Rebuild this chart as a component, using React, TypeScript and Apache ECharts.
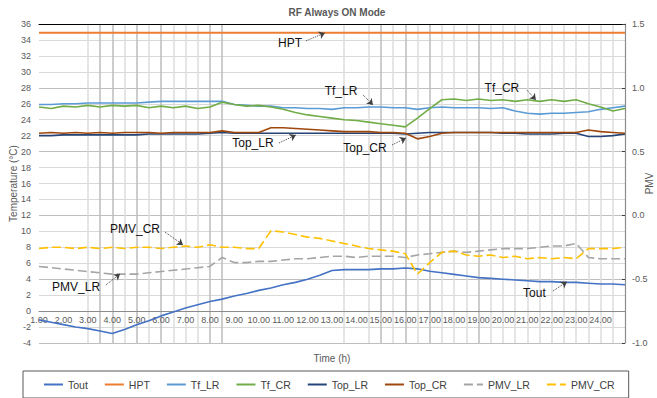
import React, { useEffect, useRef } from 'react';
import * as echarts from 'echarts';

const HOURS = [
  1.0, 1.5, 2.0, 2.5, 3.0, 3.5, 4.0, 4.5, 5.0, 5.5, 6.0, 6.5, 7.0, 7.5, 8.0, 8.5,
  9.0, 9.5, 10.0, 10.5, 11.0, 11.5, 12.0, 12.5, 13.0, 13.5, 14.0, 14.5, 15.0, 15.5,
  16.0, 16.5, 17.0, 17.5, 18.0, 18.5, 19.0, 19.5, 20.0, 20.5, 21.0, 21.5, 22.0, 22.5,
  23.0, 23.5, 24.0, 24.5, 25.0,
];

const TOUT = [
  -1.1, -1.4, -1.7, -2.0, -2.2, -2.5, -2.8, -2.3, -1.7, -1.2, -0.6, -0.1, 0.4, 0.8, 1.2, 1.5,
  1.9, 2.2, 2.6, 2.9, 3.3, 3.6, 4.0, 4.5, 5.1, 5.2, 5.2, 5.2, 5.3, 5.3,
  5.4, 5.3, 5.0, 4.8, 4.6, 4.4, 4.2, 4.1, 4.0, 3.9, 3.8, 3.7, 3.7, 3.6,
  3.6, 3.5, 3.4, 3.4, 3.3,
];

const HPT = [
  34.9, 34.9, 34.9, 34.9, 34.9, 34.9, 34.9, 34.9, 34.9, 34.9, 34.9, 34.9, 34.9, 34.9, 34.9, 34.9,
  34.9, 34.9, 34.9, 34.9, 34.9, 34.9, 34.9, 34.9, 34.9, 34.9, 34.9, 34.9, 34.9, 34.9,
  34.9, 34.9, 34.9, 34.9, 34.9, 34.9, 34.9, 34.9, 34.9, 34.9, 34.9, 34.9, 34.9, 34.9,
  34.9, 34.9, 34.9, 34.9, 34.9,
];

const TF_LR = [
  25.9, 25.9, 26.0, 26.0, 26.1, 26.1, 26.1, 26.1, 26.1, 26.2, 26.3, 26.3, 26.3, 26.3, 26.3, 26.3,
  25.9, 25.8, 25.7, 25.7, 25.5, 25.5, 25.4, 25.4, 25.3, 25.5, 25.5, 25.6, 25.6, 25.5,
  25.5, 25.3, 25.5, 25.6, 25.5, 25.5, 25.5, 25.4, 25.5, 25.1, 24.8, 24.7, 24.8, 24.8,
  24.9, 25.0, 25.3, 25.5, 25.7,
];

const TF_CR = [
  25.6, 25.4, 25.7, 25.6, 25.8, 25.6, 25.8, 25.7, 25.8, 25.5, 25.7, 25.5, 25.7, 25.4, 25.6, 26.2,
  25.9, 25.7, 25.8, 25.6, 25.3, 24.9, 24.6, 24.4, 24.2, 24.0, 23.9, 23.7, 23.5, 23.3,
  23.1, 24.2, 25.4, 26.5, 26.6, 26.4, 26.6, 26.4, 26.5, 26.3, 26.5, 26.3, 26.5, 26.3,
  26.5, 26.0, 25.6, 25.1, 25.4,
];

const TOP_LR = [
  22.0, 22.0, 22.1, 22.1, 22.1, 22.1, 22.1, 22.1, 22.1, 22.2, 22.2, 22.2, 22.2, 22.2, 22.3, 22.4,
  22.3, 22.3, 22.3, 22.3, 22.3, 22.3, 22.3, 22.3, 22.3, 22.3, 22.3, 22.3, 22.3, 22.3,
  22.2, 22.3, 22.4, 22.4, 22.4, 22.4, 22.4, 22.4, 22.3, 22.3, 22.2, 22.2, 22.2, 22.3,
  22.3, 21.9, 21.9, 22.0, 22.2,
];

const TOP_CR = [
  22.3, 22.4, 22.3, 22.4, 22.3, 22.4, 22.3, 22.4, 22.4, 22.4, 22.3, 22.4, 22.4, 22.4, 22.4, 22.6,
  22.4, 22.4, 22.4, 23.0, 23.0, 22.9, 22.8, 22.7, 22.6, 22.5, 22.5, 22.5, 22.4, 22.4,
  22.3, 21.6, 21.9, 22.3, 22.4, 22.4, 22.4, 22.4, 22.4, 22.4, 22.4, 22.4, 22.4, 22.4,
  22.4, 22.7, 22.5, 22.4, 22.3,
];

const PMV_LR = [
  -0.40, -0.41, -0.42, -0.43, -0.44, -0.45, -0.46, -0.46, -0.46, -0.45, -0.44, -0.43, -0.42, -0.41, -0.40, -0.33,
  -0.37, -0.37, -0.36, -0.36, -0.35, -0.34, -0.34, -0.33, -0.32, -0.32, -0.33, -0.32, -0.32, -0.32,
  -0.33, -0.31, -0.30, -0.29, -0.28, -0.29, -0.28, -0.27, -0.26, -0.26, -0.26, -0.25, -0.24, -0.24,
  -0.22, -0.33, -0.34, -0.34, -0.34,
];

const PMV_CR = [
  -0.26, -0.25, -0.25, -0.26, -0.25, -0.26, -0.25, -0.26, -0.25, -0.25, -0.26, -0.25, -0.24, -0.25, -0.23, -0.25,
  -0.25, -0.26, -0.26, -0.12, -0.13, -0.15, -0.17, -0.18, -0.20, -0.22, -0.24, -0.26, -0.27, -0.28,
  -0.30, -0.46, -0.37, -0.29, -0.28, -0.31, -0.32, -0.31, -0.33, -0.32, -0.34, -0.33, -0.34, -0.33,
  -0.34, -0.26, -0.26, -0.26, -0.25,
];

const TEMP_AXIS = { min: -4, max: 36, interval: 2 };
const PMV_AXIS = { min: -1, max: 1.5, interval: 0.5 };
const TIME_AXIS = { min: 1, max: 25, interval: 1, lastLabel: 24 };

// callout annotations: [hour, value] for label centre, leader start and arrow tip
const ANNOTATIONS: Record<string, { text: number[]; from: number[]; to: number[] }> = {
  HPT: { text: [11.28, 33.6], from: [11.93, 33.88], to: [12.71, 34.88] },
  Tf_LR: { text: [13.37, 27.6], from: [14.27, 27.1], to: [14.68, 25.85] },
  Tf_CR: { text: [19.96, 27.98], from: [20.98, 27.73], to: [21.35, 26.47] },
  Top_LR: { text: [9.76, 21.08], from: [10.83, 21.08], to: [11.52, 22.08] },
  Top_CR: { text: [14.35, 20.49], from: [15.46, 20.83], to: [16.03, 21.71] },
  PMV_CR: { text: [4.93, -0.106], from: [6.16, -0.13], to: [6.9, -0.231] },
  PMV_LR: { text: [2.52, -0.558], from: [3.74, -0.545], to: [4.32, -0.458] },
  Tout: { text: [21.29, 2.3], from: [22.05, 2.51], to: [22.62, 3.68] },
};

const FONT = '"Liberation Sans", Arial, sans-serif';
const D = '#bdbdbd';
const L = '#dddddd';
const VGRID_COLORS = [
  L, D, D, L, D, L, D, L, L, L, D, D,
  L,
  L, D, L, D, L, D, L, L, L, D, L, L, L, L, L, L, L, L, L, L, L,
];

function isGridHour(h: number) {
  return (h >= 3 && h <= 8.5) || h === 13.5 || (h >= 14.5 && h <= 24.5);
}

function makeSeries(name: string, values: number[], color: string, yAxisIndex: number, dashed: boolean, width: number) {
  const a = ANNOTATIONS[name];
  return {
    name,
    type: 'line',
    xAxisIndex: 0,
    yAxisIndex,
    symbol: 'none',
    data: HOURS.map((h, i) => [h, values[i]]),
    lineStyle: { color, width, type: dashed ? [9, 4] : 'solid' },
    itemStyle: { color },
    emphasis: { disabled: true },
    markPoint: {
      silent: true,
      symbol: 'circle',
      symbolSize: 1,
      itemStyle: { color: 'rgba(0,0,0,0)' },
      label: {
        show: true,
        position: 'inside',
        formatter: name,
        color: '#111',
        fontSize: 12,
        fontFamily: FONT,
      },
      data: [{ coord: a.text }],
    },
    markLine: {
      silent: true,
      symbol: ['none', 'arrow'],
      symbolSize: 6,
      label: { show: false },
      lineStyle: { type: 'dotted', color: '#404040', width: 1 },
      itemStyle: { color: '#111' },
      emphasis: { disabled: true },
      data: [[{ coord: a.from }, { coord: a.to }]],
    },
  };
}

export default function App() {
  const ref = useRef<HTMLDivElement>(null);
  useEffect(() => {
    if (!ref.current) return;
    const chart = echarts.init(ref.current, undefined, { renderer: 'svg' });
    // pixel distance from the grid bottom (-4 °C) to the 0 °C line
    const plotHeight = 398 - 24 - 55;
    const zeroOffset = -plotHeight * (0 - TEMP_AXIS.min) / (TEMP_AXIS.max - TEMP_AXIS.min);
    chart.setOption({
      animation: false,
      backgroundColor: '#ffffff',
      title: {
        text: 'RF Always ON Mode',
        left: 332,
        textAlign: 'center',
        top: 2,
        textStyle: { fontSize: 10, fontWeight: 'bold', color: '#595959', fontFamily: FONT },
      },
      grid: { left: 39, right: 32, top: 24, bottom: 55, containLabel: false, outerBoundsMode: 'none' },
      legend: {
        left: 23,
        top: 371,
        padding: [8, 14, 8, 20],
        itemGap: 16,
        itemWidth: 19,
        itemHeight: 10,
        borderColor: '#595959',
        borderWidth: 1,
        itemStyle: { opacity: 0 },
        textStyle: { fontSize: 10.5, color: '#404040', fontFamily: FONT },
        data: ['Tout', 'HPT', 'Tf_LR', 'Tf_CR', 'Top_LR', 'Top_CR', 'PMV_LR', 'PMV_CR'],
      },
      xAxis: [
        {
          type: 'value',
          position: 'bottom',
          offset: zeroOffset,
          min: TIME_AXIS.min,
          max: TIME_AXIS.max,
          interval: TIME_AXIS.interval,
          name: 'Time (h)',
          nameLocation: 'middle',
          nameGap: 42,
          nameMoveOverlap: false,
          nameTextStyle: { fontSize: 10, color: '#595959', fontFamily: FONT },
          axisLine: { show: true, onZero: false, lineStyle: { color: '#8c8c8c', width: 1 } },
          axisTick: { show: false },
          axisLabel: {
            margin: 4,
            fontSize: 9,
            color: '#595959',
            fontFamily: FONT,
            showMaxLabel: false,
            formatter: (v: number) => (v <= TIME_AXIS.lastLabel && Number.isInteger(v) ? v.toFixed(2) : ''),
          },
          splitLine: { show: false },
        },
        {
          type: 'category',
          position: 'top',
          boundaryGap: false,
          data: HOURS.map((h) => h.toFixed(2)),
          axisLine: { show: true, onZero: false, lineStyle: { color: '#000000', width: 1.2 } },
          axisTick: { show: false },
          axisLabel: { show: false },
          splitLine: {
            show: true,
            interval: (index: number) => isGridHour(HOURS[index]),
            lineStyle: { color: VGRID_COLORS, width: 1.5 },
          },
        },
      ],
      yAxis: [
        {
          type: 'value',
          min: TEMP_AXIS.min,
          max: TEMP_AXIS.max,
          interval: TEMP_AXIS.interval,
          name: 'Temperature (°C)',
          nameLocation: 'middle',
          nameGap: 21,
          nameMoveOverlap: false,
          nameTextStyle: { fontSize: 10, color: '#595959', fontFamily: FONT },
          axisLine: { show: false },
          axisTick: { show: false },
          axisLabel: { fontSize: 9, color: '#595959', fontFamily: FONT, margin: 8 },
          splitLine: { show: true, lineStyle: { color: '#d9d9d9', width: 1 } },
        },
        {
          type: 'value',
          min: PMV_AXIS.min,
          max: PMV_AXIS.max,
          interval: PMV_AXIS.interval,
          position: 'right',
          name: 'PMV',
          nameLocation: 'middle',
          nameGap: 19,
          nameMoveOverlap: false,
          nameTextStyle: { fontSize: 10, color: '#595959', fontFamily: FONT },
          axisLine: { show: true, lineStyle: { color: '#8c8c8c', width: 1.2 } },
          axisTick: { show: true, inside: true, length: 3, lineStyle: { color: '#404040' } },
          axisLabel: {
            fontSize: 9,
            color: '#595959',
            fontFamily: FONT,
            margin: 7,
            formatter: (v: number) => v.toFixed(1),
          },
          splitLine: { show: true, lineStyle: { color: '#bfbfbf', width: 1.2 } },
        },
      ],
      series: [
        makeSeries('Tout', TOUT, '#4472C4', 0, false, 1.6),
        makeSeries('HPT', HPT, '#ED7D31', 0, false, 2),
        makeSeries('Tf_LR', TF_LR, '#5B9BD5', 0, false, 1.6),
        makeSeries('Tf_CR', TF_CR, '#70AD47', 0, false, 1.6),
        makeSeries('Top_LR', TOP_LR, '#264478', 0, false, 1.6),
        makeSeries('Top_CR', TOP_CR, '#9E480E', 0, false, 1.6),
        makeSeries('PMV_LR', PMV_LR, '#A5A5A5', 1, true, 1.6),
        makeSeries('PMV_CR', PMV_CR, '#FFC000', 1, true, 1.6),
      ],
    });
    return () => chart.dispose();
  }, []);
  return (
    <div
      ref={ref}
      style={{ position: 'absolute', left: 0, top: 0, width: 657, height: 398 }}
    />
  );
}
